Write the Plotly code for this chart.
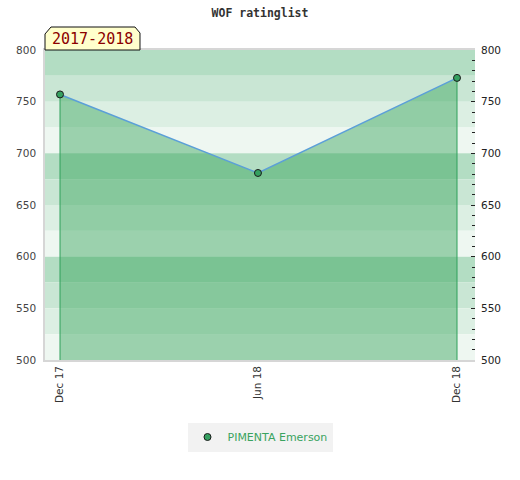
import plotly.graph_objects as go
import pandas as pd

# ---- data ----
dates = ["2017-12-01", "2018-06-01", "2018-12-01"]
ratings = [757, 681, 773]
tick_labels = ["Dec 17", "Jun 18", "Dec 18"]
player = "PIMENTA Emerson"
season = "2017-2018"
title = "WOF ratinglist"
y_min, y_max = 500, 800

W, H = 520, 480
ML, MR, MT, MB = 45, 45, 50, 120
PW, PH = W - ML - MR, H - MT - MB

def px_x(px):
    return (px - ML) / PW

def px_y(py):
    return (H - MB - py) / PH

d0 = pd.Timestamp(dates[0])
d1 = pd.Timestamp(dates[-1])
span_days = (d1 - d0).days
px_per_day = 397 / span_days
x_start = d0 - pd.Timedelta(days=15 / px_per_day)
x_end = d1 + pd.Timedelta(days=(PW - 15 - 397) / px_per_day)

fig = go.Figure()

# filled area with line
fig.add_trace(go.Scatter(
    x=dates, y=ratings, mode="lines", fill="tozeroy",
    fillcolor="rgba(46,160,84,0.43)",
    line=dict(color="#5b9fd8", width=1.5),
    showlegend=False, hoverinfo="skip",
))

# drop lines at first and last points
for i in (0, len(dates) - 1):
    fig.add_trace(go.Scatter(
        x=[dates[i], dates[i]], y=[y_min, ratings[i]], mode="lines",
        line=dict(color="#2ea05a", width=1), showlegend=False, hoverinfo="skip",
    ))

# markers (legend)
fig.add_trace(go.Scatter(
    x=dates, y=ratings, mode="markers", name=player,
    marker=dict(size=7, color="#35a060", line=dict(color="#1a1a1a", width=1)),
))

# dummy trace for right axis
fig.add_trace(go.Scatter(x=[dates[0]], y=[ratings[0]], yaxis="y2", mode="markers",
                         marker=dict(opacity=0), showlegend=False, hoverinfo="skip"))

# background bands (25-unit, 4 shades cycling)
band_colors = ["#b3ddc3", "#c9e6d4", "#dcefe3", "#eef7f1"]
shapes = []
k = 0
top = y_max
while top > y_min:
    shapes.append(dict(type="rect", xref="paper", yref="y", x0=0, x1=1,
                       y0=top - 25, y1=top, fillcolor=band_colors[k % 4],
                       line=dict(width=0), layer="below"))
    top -= 25
    k += 1

# season label box with beveled top corners
pts = [(45, 50), (45, 34), (51, 27), (135, 27), (140, 33), (140, 50)]
path = "M " + " L ".join(f"{px_x(a):.5f},{px_y(b):.5f}" for a, b in pts) + " Z"
shapes.append(dict(type="path", xref="paper", yref="paper", path=path,
                   fillcolor="#ffffcc", line=dict(color="#111111", width=1), layer="above"))

fig.update_layout(
    width=W, height=H,
    margin=dict(l=ML, r=MR, t=MT, b=MB, autoexpand=False),
    paper_bgcolor="white", plot_bgcolor="white",
    shapes=shapes,
    title=dict(text=f"<b>{title}</b>", x=0.5, xanchor="center", y=1 - 13 / H, yanchor="middle",
               font=dict(family="DejaVu Sans Mono", size=11.5, color="#333333")),
    xaxis=dict(type="date", range=[x_start, x_end], tickvals=dates, ticktext=tick_labels,
               tickangle=-90, showgrid=False, zeroline=False, automargin=False,
               showline=True, linecolor="#d6d6d6", linewidth=1.5, mirror=True,
               ticks="",
               tickfont=dict(family="DejaVu Sans", size=10.5, color="#333333")),
    yaxis=dict(range=[y_min, y_max], dtick=50, showgrid=False, zeroline=False, automargin=False,
               showline=True, linecolor="#d6d6d6", linewidth=1.5, ticks="", ticklabelstandoff=5,
               tickfont=dict(family="DejaVu Sans", size=10.5, color="#444444")),
    yaxis2=dict(range=[y_min, y_max], dtick=50, overlaying="y", side="right", automargin=False,
                showgrid=False, zeroline=False, showline=False,
                ticks="inside", ticklen=4, tickcolor="#222222", tickwidth=1, ticklabelstandoff=5,
                minor=dict(dtick=10, ticks="inside", ticklen=3, tickcolor="#222222", showgrid=False),
                tickfont=dict(family="DejaVu Sans", size=10.5, color="#222222")),
    legend=dict(orientation="h", x=0.5, xanchor="center", y=px_y(437), yanchor="middle",
                bgcolor="#f2f2f2", font=dict(family="DejaVu Sans", size=11, color="#3aa35f")),
    annotations=[dict(text=season, xref="paper", yref="paper", x=px_x(92), y=px_y(39.5),
                      xanchor="center", yanchor="middle", showarrow=False,
                      font=dict(family="DejaVu Sans Mono", size=15, color="#8b0000"))],
)

fig.write_html("out.html", config={"displayModeBar": False},
               post_script="document.body.style.margin='0px';")
